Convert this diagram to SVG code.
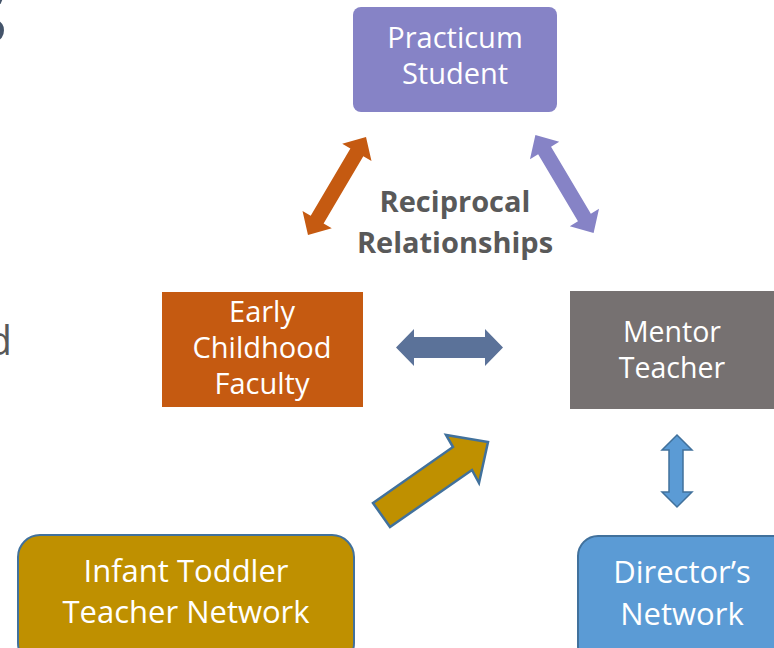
<svg xmlns="http://www.w3.org/2000/svg" width="774" height="648" viewBox="0 0 774 648">
<style>
.t{font-family:"Open Sans","Liberation Sans",sans-serif;fill:#ffffff;text-anchor:middle}
.f28{font-size:29px}
.f30{font-size:31px}
.lbl{font-family:"Open Sans","Liberation Sans",sans-serif;font-weight:bold;font-size:29px;fill:#595959;text-anchor:middle}
</style>
<defs>
<polygon id="dbl" points="-57,0 -39,-17 -39,-7.5 39,-7.5 39,-17 57,0 39,17 39,7.5 -39,7.5 -39,17"/>
</defs>
<rect width="774" height="648" fill="#ffffff"/>
<text x="8" y="43" font-family="Open Sans, Liberation Sans, sans-serif" font-size="88" fill="#44546A" text-anchor="end">s</text>
<text x="12" y="355" font-family="Open Sans, Liberation Sans, sans-serif" font-size="40" fill="#595959" text-anchor="end">d</text>

<g id="practicum">
<rect x="353" y="7" width="204" height="105" rx="8" fill="#8683C6"/>
<text class="t f28" x="455" y="48">Practicum</text>
<text class="t f28" x="455" y="84">Student</text>
</g>
<g id="faculty">
<rect x="162" y="292" width="201" height="115" fill="#C55A11"/>
<text class="t f28" x="262" y="322">Early</text>
<text class="t f28" x="262" y="358">Childhood</text>
<text class="t f28" x="262" y="394">Faculty</text>
</g>
<g id="mentor">
<rect x="570" y="291" width="210" height="118" fill="#767171"/>
<text class="t" font-size="28.5" x="672" y="342">Mentor</text>
<text class="t" font-size="28.5" x="672" y="378">Teacher</text>
</g>
<g id="director">
<rect x="578" y="536" width="220" height="130" rx="20" fill="#5B9BD5" stroke="#41719C" stroke-width="2"/>
<text class="t f30" x="682" y="583">Director’s</text>
<text class="t f30" x="682" y="625">Network</text>
</g>
<g id="infant">
<rect x="18" y="535" width="336" height="130" rx="22" fill="#BF9000" stroke="#41719C" stroke-width="2"/>
<text class="t f30" x="186" y="582">Infant Toddler</text>
<text class="t f30" x="186" y="623">Teacher Network</text>
</g>
<g id="label">
<text class="lbl" x="455" y="212">Reciprocal</text>
<text class="lbl" x="455" y="253">Relationships</text>
</g>
<g id="connectors">
<use href="#dbl" transform="translate(337,186) rotate(-59.4)" fill="#C55A11"/>
<use href="#dbl" transform="translate(564.5,184) rotate(59.3)" fill="#8683C6"/>
<polygon points="396,347.5 414,329 414,337 485,337 485,329 503,347.5 485,366 485,358 414,358 414,366" fill="#5B7299"/>
<polygon points="677,435 692,450 683,450 683,492 692,492 677,507 662,492 669,492 669,450 662,450" fill="#5B9BD5" stroke="#41719C" stroke-width="1.5" stroke-linejoin="miter"/>
<polygon points="373,503 453,447 446,435 488,442 479,483 472,470 390,527" fill="#BF9000" stroke="#41719C" stroke-width="2.5" stroke-linejoin="miter"/>
</g>
</svg>
